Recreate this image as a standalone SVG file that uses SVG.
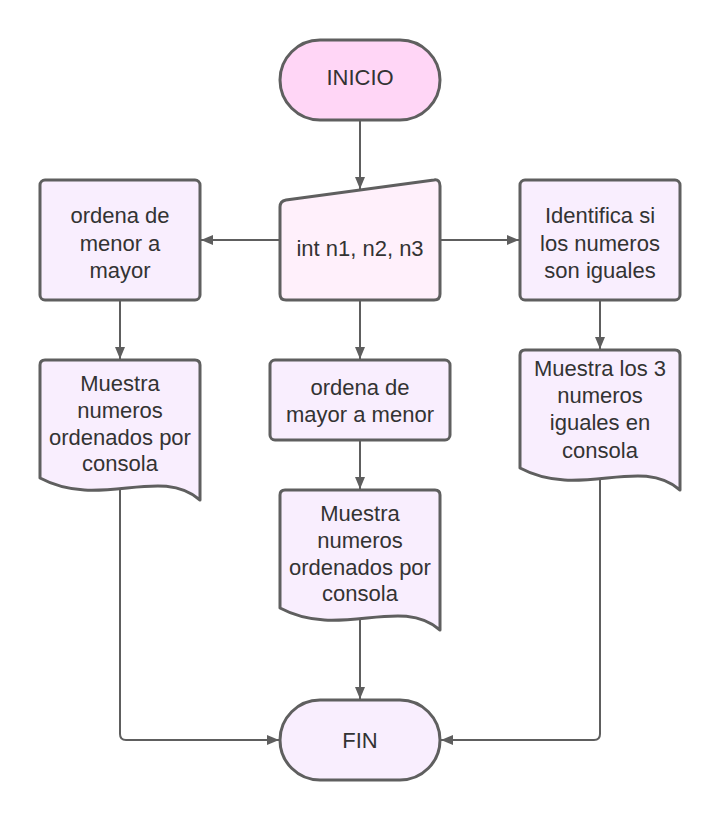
<svg xmlns="http://www.w3.org/2000/svg" width="720" height="820" viewBox="0 0 720 820">
<defs>
<marker id="ah" viewBox="0 0 12 10" refX="12" refY="5" markerWidth="12" markerHeight="10" markerUnits="userSpaceOnUse" orient="auto">
<path d="M0,0 L12,5 L0,10 Z" fill="#5e5e5e"/>
</marker>
<style>
.n{stroke:#5f5f5f;stroke-width:3;stroke-linejoin:round}
.t{font-family:"Liberation Sans",Arial,sans-serif;font-size:22px;fill:#333333;text-anchor:middle}
.c{fill:none;stroke:#5e5e5e;stroke-width:2;marker-end:url(#ah)}
</style>
</defs>
<rect width="720" height="820" fill="#ffffff"/>
<g id="connectors">
<path class="c" d="M360,120 L360,189"/>
<path class="c" d="M280,240 L201,240"/>
<path class="c" d="M440,240 L519,240"/>
<path class="c" d="M120,300 L120,359"/>
<path class="c" d="M360,300 L360,359"/>
<path class="c" d="M600,300 L600,349"/>
<path class="c" d="M360,440 L360,489"/>
<path class="c" d="M120,488 L120,734 Q120,740 126,740 L279,740"/>
<path class="c" d="M360,618 L360,699"/>
<path class="c" d="M600,478 L600,734 Q600,740 594,740 L441,740"/>
</g>
<g id="inicio">
<rect class="n" x="280" y="40" width="160" height="80" rx="40" fill="#ffd6f6"/>
<text class="t" x="360" y="85">INICIO</text>
</g>
<g id="input">
<path class="n" d="M286,200 L434,180 Q440,179 440,186 L440,294 Q440,300 434,300 L286,300 Q280,300 280,294 L280,207 Q280,201 286,200 Z" fill="#fff0fb"/>
<text class="t" x="360" y="256">int n1, n2, n3</text>
</g>
<g id="ordena-menor">
<rect class="n" x="40" y="180" width="160" height="120" rx="5" fill="#f9eefe"/>
<text class="t" x="120" y="223">ordena de</text>
<text class="t" x="120" y="251">menor a</text>
<text class="t" x="120" y="278">mayor</text>
</g>
<g id="identifica">
<rect class="n" x="520" y="180" width="160" height="120" rx="5" fill="#f9eefe"/>
<text class="t" x="600" y="223">Identifica si</text>
<text class="t" x="600" y="251">los numeros</text>
<text class="t" x="600" y="278">son iguales</text>
</g>
<g id="muestra-izq">
<path class="n" d="M45,360 L195,360 Q200,360 200,365 L200,500 C160,465 100,510 40,478 L40,365 Q40,360 45,360 Z" fill="#f9eefe"/>
<text class="t" x="120" y="391">Muestra</text>
<text class="t" x="120" y="418">numeros</text>
<text class="t" x="120" y="445">ordenados por</text>
<text class="t" x="120" y="471">consola</text>
</g>
<g id="ordena-mayor">
<rect class="n" x="270" y="360" width="180" height="80" rx="5" fill="#f9eefe"/>
<text class="t" x="360" y="395">ordena de</text>
<text class="t" x="360" y="422">mayor a menor</text>
</g>
<g id="muestra-centro">
<path class="n" d="M285,490 L435,490 Q440,490 440,495 L440,630 C400,595 340,640 280,608 L280,495 Q280,490 285,490 Z" fill="#f9eefe"/>
<text class="t" x="360" y="521">Muestra</text>
<text class="t" x="360" y="548">numeros</text>
<text class="t" x="360" y="575">ordenados por</text>
<text class="t" x="360" y="601">consola</text>
</g>
<g id="muestra-der">
<path class="n" d="M525,350 L675,350 Q680,350 680,355 L680,490 C640,455 580,500 520,468 L520,355 Q520,350 525,350 Z" fill="#f9eefe"/>
<text class="t" x="600" y="376">Muestra los 3</text>
<text class="t" x="600" y="403">numeros</text>
<text class="t" x="600" y="430">iguales en</text>
<text class="t" x="600" y="458">consola</text>
</g>
<g id="fin">
<rect class="n" x="280" y="700" width="160" height="80" rx="40" fill="#f9eefe"/>
<text class="t" x="360" y="748">FIN</text>
</g>
</svg>
